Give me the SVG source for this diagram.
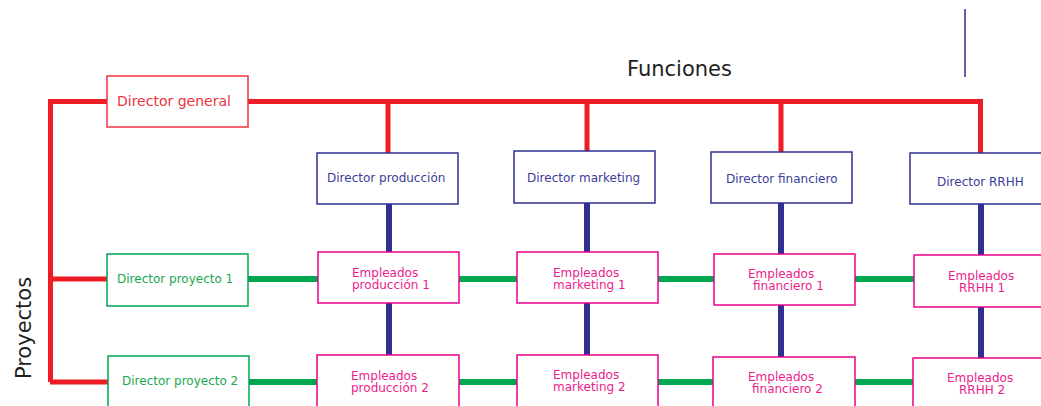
<svg xmlns="http://www.w3.org/2000/svg" width="1041" height="406" viewBox="0 0 1041 406">
<style>
text{font-family:"DejaVu Sans","Liberation Sans",sans-serif;font-size:12px}
.red{stroke:#ee1c25;stroke-width:5;fill:none}
.blue{stroke:#2e3192;stroke-width:6;fill:none}
.green{stroke:#00a650;stroke-width:6;fill:none}
.bg{fill:#fff;stroke:#ef3340;stroke-width:1.5}
.bb{fill:#fff;stroke:#2e3192;stroke-width:1.5}
.bgr{fill:#fff;stroke:#00a650;stroke-width:1.5}
.bm{fill:#fff;stroke:#ec008c;stroke-width:1.5}
.tr{fill:#ef3340}
.tb{fill:#3b3d98}
.tg{fill:#1aa850}
.tm{fill:#ec1c8c}
</style>
<g id="connectors">
<path class="red" d="M50.5 101.5H983M50.5 99V382M50 279H108M50 382H108M388 101V153M587 101V152M781 101V152M980.5 101V154"/>
<path class="blue" d="M389 204V356M587 203V356M781 203V358M981 204V359"/>
<path class="green" d="M248 279H1041M249 382H1041"/>
<line x1="965" y1="9" x2="965" y2="77" stroke="#2e3192" stroke-width="1.5"/>
</g>
<g id="labels">
<text x="627" y="76" style="font-size:21px;fill:#231f20">Funciones</text>
<text transform="translate(31 328) rotate(-90)" text-anchor="middle" style="font-size:21px;fill:#231f20">Proyectos</text>
</g>
<g id="director-general"><rect class="bg" x="107" y="76" width="141" height="51"/><text class="tr" x="117" y="106" style="font-size:14px">Director general</text></g>
<g id="director-produccion"><rect class="bb" x="317" y="153" width="141" height="51"/><text class="tb" x="327" y="182">Director producción</text></g>
<g id="director-marketing"><rect class="bb" x="514" y="151" width="141" height="52"/><text class="tb" x="527" y="182">Director marketing</text></g>
<g id="director-financiero"><rect class="bb" x="711" y="152" width="141" height="51"/><text class="tb" x="726" y="183">Director financiero</text></g>
<g id="director-rrhh"><rect class="bb" x="910" y="153" width="141" height="51"/><text class="tb" x="937" y="186">Director RRHH</text></g>
<g id="director-proyecto-1"><rect class="bgr" x="107" y="254" width="141" height="52"/><text class="tg" x="117" y="283">Director proyecto 1</text></g>
<g id="director-proyecto-2"><rect class="bgr" x="108" y="356" width="141" height="52"/><text class="tg" x="122" y="385">Director proyecto 2</text></g>
<g id="empleados-produccion-1"><rect class="bm" x="318" y="252" width="141" height="51"/><text class="tm" x="352" y="277">Empleados</text><text class="tm" x="352" y="289">producción 1</text></g>
<g id="empleados-marketing-1"><rect class="bm" x="517" y="252" width="141" height="51"/><text class="tm" x="553" y="277">Empleados</text><text class="tm" x="553" y="289">marketing 1</text></g>
<g id="empleados-financiero-1"><rect class="bm" x="714" y="254" width="141" height="51"/><text class="tm" x="748" y="278">Empleados</text><text class="tm" x="753" y="290">financiero 1</text></g>
<g id="empleados-rrhh-1"><rect class="bm" x="914" y="255" width="141" height="52"/><text class="tm" x="948" y="280">Empleados</text><text class="tm" x="959" y="292">RRHH 1</text></g>
<g id="empleados-produccion-2"><rect class="bm" x="317" y="355" width="142" height="53"/><text class="tm" x="351" y="380">Empleados</text><text class="tm" x="351" y="392">producción 2</text></g>
<g id="empleados-marketing-2"><rect class="bm" x="517" y="355" width="141" height="53"/><text class="tm" x="553" y="379">Empleados</text><text class="tm" x="553" y="391">marketing 2</text></g>
<g id="empleados-financiero-2"><rect class="bm" x="713" y="357" width="142" height="53"/><text class="tm" x="748" y="381">Empleados</text><text class="tm" x="752" y="393">financiero 2</text></g>
<g id="empleados-rrhh-2"><rect class="bm" x="913" y="358" width="141" height="53"/><text class="tm" x="947" y="382">Empleados</text><text class="tm" x="959" y="394">RRHH 2</text></g>
</svg>
